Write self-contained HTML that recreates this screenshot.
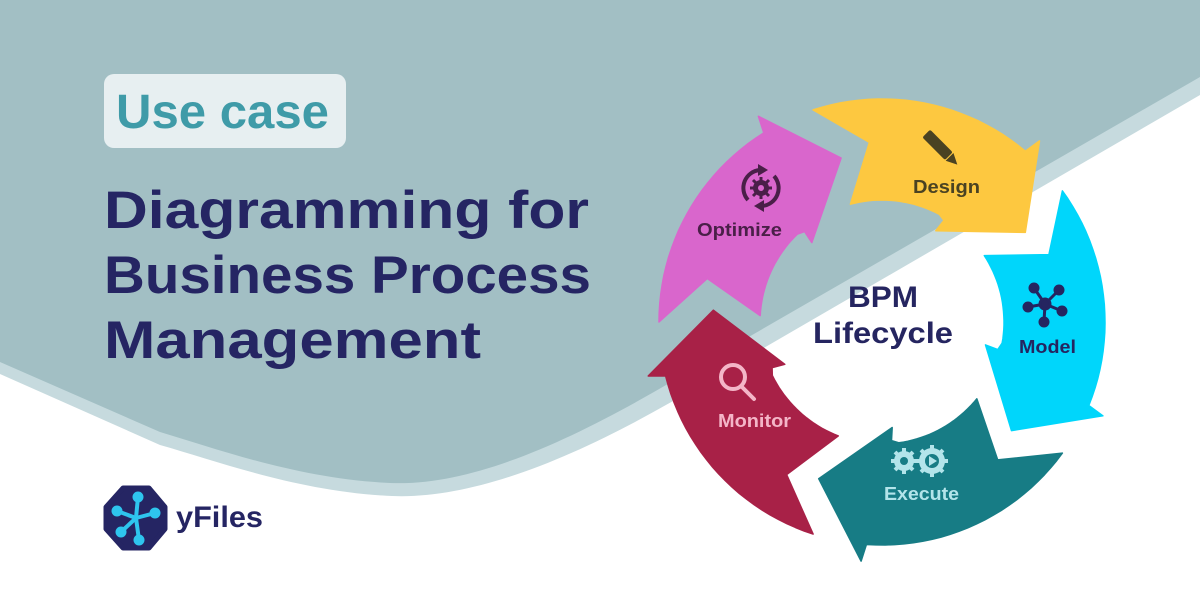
<!DOCTYPE html>
<html><head><meta charset="utf-8">
<style>
html,body{margin:0;padding:0;width:1200px;height:601px;overflow:hidden;background:#fff}
svg{display:block}
text{font-family:"Liberation Sans",sans-serif;font-weight:bold}
</style></head>
<body>
<svg id="s" width="1200" height="601" viewBox="0 0 1200 601" xmlns="http://www.w3.org/2000/svg">
<rect width="1200" height="601" fill="#fff"/>
<path d="M0,0 H1200 V95 L712,378 C610,440 490,500 392,496 C300,492 220,462 160,445 L0,374 Z" fill="#c6dade"/>
<path d="M0,0 H1200 V77 L700,365 C600,425 485,487 390,483 C300,479 220,450 160,432 L0,362 Z" fill="#a2bfc4"/>

<rect x="104" y="74" width="242" height="74" rx="10" fill="#e7eff1"/>
<text x="116" y="128" font-size="48" fill="#3f9ba8" textLength="213" lengthAdjust="spacingAndGlyphs">Use case</text>
<text x="104" y="228" font-size="53" fill="#252563" textLength="485" lengthAdjust="spacingAndGlyphs">Diagramming for</text>
<text x="104" y="293" font-size="53" fill="#252563" textLength="487" lengthAdjust="spacingAndGlyphs">Business Process</text>
<text x="104" y="358" font-size="53" fill="#252563" textLength="377" lengthAdjust="spacingAndGlyphs">Management</text>

<!-- logo -->
<path d="M123,488 L149,488 L165,507 L165,529 L149,548 L123,548 L106,529 L106,507 Z" fill="#252563" stroke="#252563" stroke-width="5" stroke-linejoin="round"/>
<g stroke="#2ec5ee" stroke-width="4" stroke-linecap="round" fill="#2ec5ee">
<line x1="136" y1="518" x2="138" y2="497"/><line x1="136" y1="518" x2="117" y2="511"/>
<line x1="136" y1="518" x2="121" y2="532"/><line x1="136" y1="518" x2="139" y2="540"/>
<line x1="136" y1="518" x2="155" y2="513"/>
<circle cx="138" cy="497" r="3.5"/><circle cx="117" cy="511" r="3.5"/><circle cx="121" cy="532" r="3.5"/>
<circle cx="139" cy="540" r="3.5"/><circle cx="155" cy="513" r="3.5"/>
</g>
<text x="176" y="527" font-size="30" fill="#252563" textLength="87" lengthAdjust="spacingAndGlyphs">yFiles</text>

<g id="arrows"></g>

<text x="848" y="307" font-size="30" fill="#252560" textLength="70" lengthAdjust="spacingAndGlyphs">BPM</text>
<text x="813" y="343" font-size="30" fill="#252560" textLength="140" lengthAdjust="spacingAndGlyphs">Lifecycle</text>

<!-- Design icon pencil -->
<g transform="translate(940,148) rotate(-45)">
<rect x="-5" y="-20" width="11" height="32" rx="2" fill="#4a4222"/>
<path d="M-5,13 L6,13 L0.5,24 Z" fill="#4a4222"/>
</g>
<text x="913" y="193" font-size="18" fill="#4a4222" textLength="67" lengthAdjust="spacingAndGlyphs">Design</text>

<!-- Model icon -->
<g fill="#252560" stroke="#252560" stroke-width="3">
<line x1="1045" y1="304" x2="1034" y2="288"/><line x1="1045" y1="304" x2="1059" y2="290"/>
<line x1="1045" y1="304" x2="1028" y2="307"/><line x1="1045" y1="304" x2="1062" y2="311"/>
<line x1="1045" y1="304" x2="1044" y2="322"/>
<circle cx="1045" cy="304" r="5"/><circle cx="1034" cy="288" r="4"/><circle cx="1059" cy="290" r="4"/>
<circle cx="1028" cy="307" r="4"/><circle cx="1062" cy="311" r="4"/><circle cx="1044" cy="322" r="4"/>
</g>
<text x="1019" y="353" font-size="18" fill="#252560" textLength="57" lengthAdjust="spacingAndGlyphs">Model</text>

<!-- Execute gears -->
<g fill="#b3e4ea">
<circle cx="904" cy="461" r="10"/><circle cx="932" cy="461" r="13"/>
<g stroke="#b3e4ea" stroke-width="4">
<line x1="904" y1="448" x2="904" y2="474"/><line x1="891" y1="461" x2="917" y2="461"/>
<line x1="895" y1="452" x2="913" y2="470"/><line x1="913" y1="452" x2="895" y2="470"/>
<line x1="932" y1="445" x2="932" y2="477"/><line x1="916" y1="461" x2="948" y2="461"/>
<line x1="921" y1="450" x2="943" y2="472"/><line x1="943" y1="450" x2="921" y2="472"/>
</g>
<circle cx="904" cy="461" r="4" fill="#177c85"/><circle cx="932" cy="461" r="7" fill="#177c85"/>
<path d="M929,456 L937,461 L929,466 Z"/>
</g>
<text x="884" y="500" font-size="18" fill="#b3e4ea" textLength="75" lengthAdjust="spacingAndGlyphs">Execute</text>

<!-- Monitor magnifier -->
<g stroke="#f4b6c8" fill="none" stroke-width="4" stroke-linecap="round">
<circle cx="733" cy="377" r="12"/><line x1="742" y1="387" x2="754" y2="399"/>
</g>
<text x="718" y="427" font-size="18" fill="#f4b6c8" textLength="73" lengthAdjust="spacingAndGlyphs">Monitor</text>

<!-- Optimize icon -->
<g stroke="#4a1f48" fill="none" stroke-width="4">
<path d="M748,200 A18,18 0 0 1 760,170"/><path d="M774,176 A18,18 0 0 1 762,206"/>
</g>
<g fill="#4a1f48">
<path d="M758,164 L768,170 L758,176 Z"/><path d="M764,200 L754,206 L764,212 Z"/>
<circle cx="761" cy="188" r="8"/>
<g stroke="#4a1f48" stroke-width="3"><line x1="761" y1="177" x2="761" y2="199"/><line x1="750" y1="188" x2="772" y2="188"/><line x1="753" y1="180" x2="769" y2="196"/><line x1="769" y1="180" x2="753" y2="196"/></g>
<circle cx="761" cy="188" r="3" fill="#d966cc"/>
</g>
<text x="697" y="236" font-size="18" fill="#4a1f48" textLength="85" lengthAdjust="spacingAndGlyphs">Optimize</text>
</svg>
<script>
(function(){
var cx=882,cy=322;
function P(r,a){a=a*Math.PI/180;return [cx+r*Math.cos(a),cy+r*Math.sin(a)];}
function arc(pts,r,a0,a1,n){for(var i=0;i<=n;i++){var a=a0+(a1-a0)*i/n;pts.push(P(r,a));}}
var cols=["#fdc840","#00d6fb","#177c85","#a82147","#d966cc"];
var g=document.getElementById("arrows"),out="";
for(var k=0;k<5;k++){
 var o=k*72,pts=[];
 arc(pts,223,-108+o,-50+o,24);
 pts.push(P(240,-49+o));
 pts.push(P(169,-32+o));
 pts.push(P(106,-59.5+o));
 pts.push(P(119,-58.6+o));
 arc(pts,122,-62+o,-105+o,20);
 pts.push(P(180,-94+o));
 var d="M"+pts.map(function(p){return p[0].toFixed(1)+","+p[1].toFixed(1);}).join(" L")+" Z";
 out+='<path d="'+d+'" fill="'+cols[k]+'" stroke="'+cols[k]+'" stroke-width="1.5" stroke-linejoin="round"/>';
}
g.innerHTML=out;
})();
</script>
</body></html>
